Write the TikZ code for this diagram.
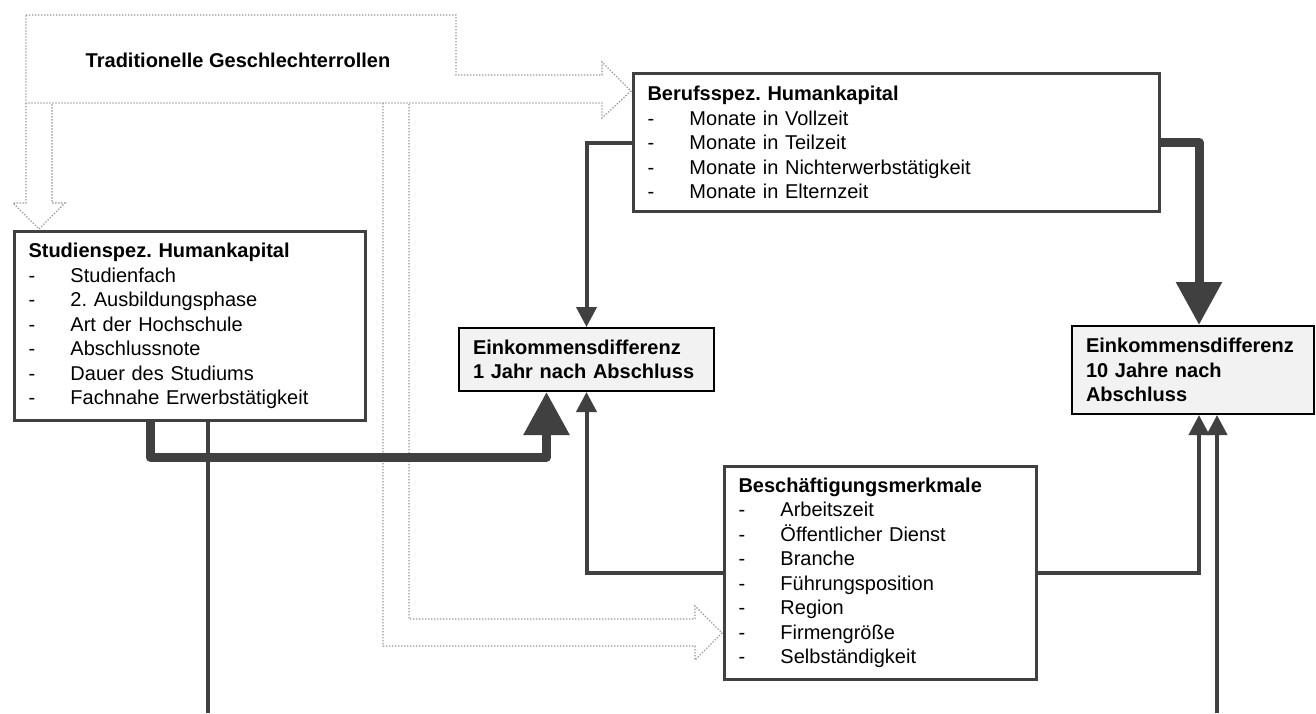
\documentclass[tikz,border=0pt]{standalone}
\usepackage{fontspec}
\setmainfont{Liberation Sans}
\usetikzlibrary{arrows.meta,positioning,calc}
\definecolor{linegray}{HTML}{404040}
\definecolor{dotgray}{HTML}{959595}
\definecolor{boxfill}{HTML}{F2F2F2}
\newcommand{\itm}[1]{\makebox[42pt][l]{-}#1}
\frenchspacing

\begin{document}
\begin{tikzpicture}[x=1pt,y=-1pt,>=Latex,
 box/.style={draw=linegray,line width=3pt,anchor=north west,align=left,inner xsep=14pt,inner ysep=0pt,font=\fontsize{20}{24.5}\selectfont},
 result/.style={box,draw=black,line width=2pt,fill=boxfill,font=\fontsize{20}{24.5}\selectfont\bfseries},
 link/.style={draw=linegray,line width=4pt,-{Triangle[width=20pt,length=20pt]}},
 biglink/.style={draw=linegray,line width=9pt,line join=round,-{Triangle[width=44pt,length=43pt]}},
 plain/.style={draw=linegray,line width=4pt},
 hint/.style={draw=dotgray,line width=1.3pt,dash pattern=on 1.3pt off 1.7pt}]
\useasboundingbox (0,0) rectangle (1316,713);
% Rollenbilder
\node[font=\fontsize{20}{24}\selectfont\bfseries](trad)at(238,60){Traditionelle Geschlechterrollen};
\draw[hint](26,15)--(456,15)--(456,75)--(602,75)--(602,62)--(631,91)--(602,118)--(602,103)--(26,103)--cycle;
\draw[hint](26,103)--(26,203)--(13,203)--(39,229)--(65,203)--(52,203)--(52,103);
\draw[hint](383,103)--(383,646)--(695,646)--(695,660)--(722,633)--(695,606)--(695,619)--(409,619)--(409,103);
% Humankapital und Beschaeftigung
\node[box,text width=323pt,minimum height=189pt](stud)at(13,230){\textbf{Studienspez. Humankapital}\\
 \itm{Studienfach}\\ \itm{2. Ausbildungsphase}\\ \itm{Art der Hochschule}\\
 \itm{Abschlussnote}\\ \itm{Dauer des Studiums}\\ \itm{Fachnahe Erwerbstätigkeit}};
\node[box,text width=498pt,minimum height=138pt](beruf)at(632,72){\textbf{Berufsspez. Humankapital}\\
 \itm{Monate in Vollzeit}\\ \itm{Monate in Teilzeit}\\ \itm{Monate in Nichterwerbstätigkeit}\\
 \itm{Monate in Elternzeit}};
\node[box,text width=284pt,minimum height=213pt](besch)at(723,465){\textbf{Beschäftigungsmerkmale}\\
 \itm{Arbeitszeit}\\ \itm{Öffentlicher Dienst}\\ \itm{Branche}\\ \itm{Führungsposition}\\
 \itm{Region}\\ \itm{Firmengröße}\\ \itm{Selbständigkeit}};
% Einkommen
\node[result,text width=227pt,minimum height=63pt](ein1)at(458,327){Einkommensdifferenz\\1 Jahr nach Abschluss};
\node[result,text width=214pt,minimum height=88pt](ein10)at(1071,325){Einkommensdifferenz\\10 Jahre nach\\Abschluss};
\coordinate(stud out)at(208,713);
\coordinate(ein10 in)at(1217,713);
\draw[link](beruf.west)-|(ein1.north);
\draw[link](besch.west)-|(ein1.south);
\draw[biglink]([xshift=-40pt]stud.south)--++(0,35)-|([xshift=-40pt]ein1.south);
\draw[biglink](beruf.east)-|([xshift=6pt]ein10.north);
\draw[link](besch.east)-|([xshift=6pt]ein10.south);
\draw[link](ein10 in)--(ein10 in|-ein10.south);
\draw[plain](stud.south-|stud out)--(stud out);
\end{tikzpicture}
\end{document}
